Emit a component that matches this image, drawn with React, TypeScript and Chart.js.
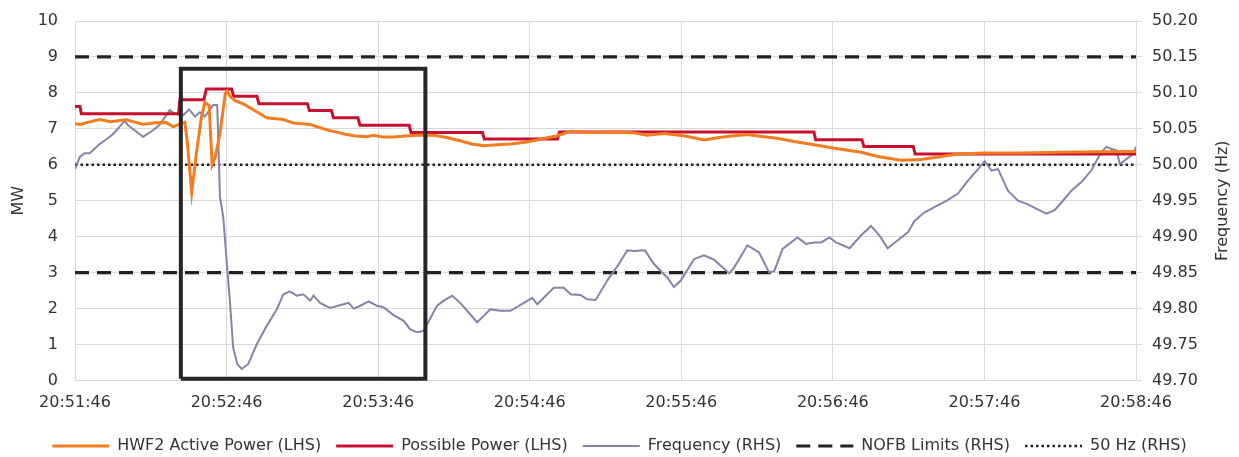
import React, { useEffect, useRef } from 'react';
import { Chart, registerables } from 'chart.js';

Chart.register(...registerables);

// Time axis: seconds elapsed since 20:51:46
const startClock = [20, 51, 46];
const timeTicksSeconds = [0, 60, 120, 180, 240, 300, 360, 420];

// HWF2 Active Power (MW, LHS)
const activeTimes = [0, 2, 5, 9.8, 14, 20.4, 24, 27, 32, 36, 38.8, 41, 43.5, 44.5, 46.2, 48, 50, 51.4, 53.1, 54.3, 55.5, 57.4, 59.5, 60.2, 61.5, 63.3, 67, 70.6, 75.9, 82.5, 86.4, 93.1, 99.7, 107.6, 111, 115.5, 118, 122, 126.1, 131, 135.4, 142, 147, 152.5, 157, 161.8, 167, 172.4, 178, 183, 187, 190.9, 196.2, 205, 213, 221, 226.6, 233, 241, 249, 255, 260.9, 266, 272.7, 278, 284.7, 292.6, 300.6, 311.2, 317.8, 327, 335, 342.9, 349.5, 360, 375, 390, 405, 420];
const activeMW = [7.14, 7.12, 7.18, 7.26, 7.2, 7.25, 7.18, 7.13, 7.17, 7.18, 7.06, 7.12, 7.18, 6.6, 5.23, 6.3, 7.3, 7.74, 7.65, 6.0, 6.2, 6.87, 7.99, 8.05, 7.9, 7.79, 7.68, 7.53, 7.31, 7.26, 7.16, 7.12, 6.97, 6.84, 6.8, 6.78, 6.82, 6.77, 6.77, 6.8, 6.82, 6.82, 6.76, 6.67, 6.58, 6.53, 6.56, 6.58, 6.63, 6.69, 6.75, 6.81, 6.93, 6.9, 6.91, 6.89, 6.82, 6.87, 6.81, 6.69, 6.76, 6.81, 6.84, 6.78, 6.74, 6.65, 6.56, 6.46, 6.35, 6.23, 6.13, 6.15, 6.23, 6.3, 6.33, 6.33, 6.35, 6.36, 6.37];

// Possible Power (MW, LHS) - stepped
const possibleTimes = [0, 2, 2.5, 41, 41.5, 51, 52, 62, 62.8, 72, 72.8, 92, 92.8, 101.5, 102.3, 112, 112.8, 132.3, 133, 161.3, 162, 191, 191.8, 292.5, 293.2, 311.5, 312.3, 331.8, 332.6, 420];
const possibleMW = [7.62, 7.62, 7.42, 7.42, 7.81, 7.81, 8.11, 8.11, 7.91, 7.91, 7.7, 7.7, 7.51, 7.51, 7.31, 7.31, 7.1, 7.1, 6.9, 6.9, 6.72, 6.72, 6.91, 6.91, 6.7, 6.7, 6.51, 6.51, 6.3, 6.3];

// Frequency (Hz, RHS)
const freqTimes = [0, 1.9, 3.8, 5.8, 9.8, 13.8, 15.7, 19.7, 21, 27, 30.9, 33.6, 37.5, 39.5, 42.8, 45.2, 47.5, 49.4, 51.4, 54.7, 56.3, 57.4, 58.7, 60, 61.3, 62.6, 64.2, 66, 68.6, 71.9, 75.9, 79.9, 82.5, 85.1, 87.8, 90.4, 93.1, 94.4, 97, 100.9, 106.3, 108.3, 110.3, 113, 116.2, 119.5, 122.1, 126.1, 130.1, 132.7, 135.4, 138, 143.3, 146, 149.3, 152.5, 159.2, 164.4, 168.4, 172.4, 177.7, 181, 183, 189.5, 193.5, 196.2, 200.1, 202.8, 206.1, 210.7, 215.3, 218.6, 221.3, 225.6, 229.2, 234.5, 237.1, 239.8, 245.1, 249, 253, 259, 260.9, 266.2, 270.8, 274.8, 276.8, 280.1, 286, 289.4, 292.6, 295.4, 298.6, 301.3, 306.6, 311.2, 315.1, 318.4, 321.7, 325.7, 329.7, 332.3, 336.3, 340.2, 345.5, 349.5, 353.5, 357.5, 360.1, 362.8, 365.4, 369.3, 373.3, 377.2, 379.9, 384.5, 387.8, 391.1, 394.4, 398.4, 402.3, 406.3, 408.3, 410.3, 412.3, 413.6, 416.2, 418.9, 420];
const freqHz = [49.994, 50.011, 50.016, 50.016, 50.029, 50.039, 50.045, 50.061, 50.055, 50.039, 50.048, 50.056, 50.076, 50.071, 50.069, 50.077, 50.067, 50.073, 50.067, 50.083, 50.083, 49.955, 49.927, 49.867, 49.811, 49.746, 49.723, 49.716, 49.723, 49.75, 49.776, 49.799, 49.82, 49.824, 49.818, 49.82, 49.811, 49.818, 49.808, 49.801, 49.806, 49.808, 49.8, 49.804, 49.81, 49.804, 49.802, 49.791, 49.783, 49.771, 49.767, 49.769, 49.804, 49.811, 49.818, 49.808, 49.781, 49.799, 49.797, 49.797, 49.808, 49.815, 49.806, 49.829, 49.829, 49.82, 49.819, 49.813, 49.812, 49.839, 49.862, 49.881, 49.88, 49.881, 49.862, 49.843, 49.83, 49.839, 49.869, 49.874, 49.868, 49.849, 49.857, 49.888, 49.878, 49.85, 49.852, 49.883, 49.899, 49.89, 49.892, 49.892, 49.899, 49.892, 49.884, 49.902, 49.915, 49.902, 49.884, 49.895, 49.906, 49.922, 49.934, 49.941, 49.951, 49.96, 49.978, 49.994, 50.005, 49.992, 49.994, 49.964, 49.95, 49.945, 49.94, 49.932, 49.937, 49.95, 49.964, 49.976, 49.992, 50.018, 50.025, 50.022, 50.02, 50.001, 50.008, 50.015, 50.025];

// Reference lines (Hz, RHS)
const nofbLimitsHz = [50.15, 49.85];
const nominalHz = 50;

// Highlight box (seconds, MW)
const boxTimes = [41.9, 41.9, 138.7, 138.7, 41.9];
const boxMW = [0.05, 8.67, 8.67, 0.05, 0.05];

const FONT = '"DejaVu Sans", sans-serif';
const TEXT = '#333333';
const GRID = '#d9d9d9';

const pts = (xs: number[], ys: number[]) => xs.map((x, i) => ({ x, y: ys[i] }));
const span = (v: number) => [{ x: 0, y: v }, { x: 420, y: v }];

const fmtTime = (s: number) => {
  const total = startClock[0] * 3600 + startClock[1] * 60 + startClock[2] + Math.round(s);
  const h = Math.floor(total / 3600);
  const m = Math.floor((total % 3600) / 60);
  const sec = total % 60;
  return `${h}:${String(m).padStart(2, '0')}:${String(sec).padStart(2, '0')}`;
};

const rightTitlePlugin = {
  id: 'rightTitle',
  afterDraw(chart: any) {
    const ctx = chart.ctx;
    const area = chart.chartArea;
    ctx.save();
    ctx.translate(1223, (area.top + area.bottom) / 2);
    ctx.rotate(-Math.PI / 2);
    ctx.font = `16px ${FONT}`;
    ctx.fillStyle = TEXT;
    ctx.textAlign = 'center';
    ctx.textBaseline = 'middle';
    ctx.fillText('Frequency (Hz)', 0, 0);
    ctx.restore();
  },
};

export default function App() {
  const ref = useRef<HTMLCanvasElement | null>(null);

  useEffect(() => {
    document.body.style.margin = '0';
    if (!ref.current) return;
    const datasets: any[] = [
      {
        label: 'HWF2 Active Power (LHS)',
        data: pts(activeTimes, activeMW),
        borderColor: '#F47C20',
        backgroundColor: '#F47C20',
        borderWidth: 3,
        yAxisID: 'y',
      },
      {
        label: 'Possible Power (LHS)',
        data: pts(possibleTimes, possibleMW),
        borderColor: '#C8102E',
        backgroundColor: '#C8102E',
        borderWidth: 3,
        yAxisID: 'y',
      },
      {
        label: 'Frequency (RHS)',
        data: pts(freqTimes, freqHz),
        borderColor: '#8385A4',
        backgroundColor: '#8385A4',
        borderWidth: 2,
        yAxisID: 'y1',
      },
      {
        label: 'NOFB Limits (RHS)',
        data: span(nofbLimitsHz[0]),
        borderColor: '#222222',
        backgroundColor: '#222222',
        borderWidth: 3.2,
        borderDash: [14, 8],
        yAxisID: 'y1',
      },
      {
        label: '50 Hz (RHS)',
        data: span(nominalHz),
        borderColor: '#222222',
        backgroundColor: '#222222',
        borderWidth: 2.5,
        borderDash: [2.5, 3],
        yAxisID: 'y1',
      },
      {
        label: 'NOFB Limits lower',
        hideInLegend: true,
        data: span(nofbLimitsHz[1]),
        borderColor: '#222222',
        borderWidth: 3.2,
        borderDash: [14, 8],
        yAxisID: 'y1',
      },
      {
        label: 'Highlight',
        hideInLegend: true,
        data: pts(boxTimes, boxMW),
        borderColor: '#262626',
        borderWidth: 4,
        borderJoinStyle: 'miter',
        yAxisID: 'y',
        order: -1,
        clip: false,
      },
    ];

    const chart = new Chart(ref.current, {
      type: 'line',
      data: { datasets },
      plugins: [rightTitlePlugin],
      options: {
        animation: false,
        responsive: true,
        maintainAspectRatio: false,
        events: [],
        layout: { padding: { top: 21, left: 0, right: 0, bottom: 0 } },
        elements: {
          point: { radius: 0 },
          line: { tension: 0, fill: false },
        },
        plugins: {
          tooltip: { enabled: false },
          legend: {
            position: 'bottom',
            labels: {
              font: { family: FONT, size: 16 },
              color: TEXT,
              usePointStyle: true,
              pointStyleWidth: 57,
              padding: 15,
              generateLabels: (c: any) =>
                c.data.datasets
                  .map((ds: any, i: number) => ({
                    text: ds.label,
                    strokeStyle: ds.borderColor,
                    fillStyle: ds.borderColor,
                    lineWidth: ds.borderWidth,
                    lineDash: ds.borderDash || [],
                    lineCap: 'butt',
                    pointStyle: 'line',
                    rotation: 0,
                    hidden: false,
                    fontColor: TEXT,
                    datasetIndex: i,
                    skip: !!ds.hideInLegend,
                  }))
                  .filter((it: any) => !it.skip),
            },
          },
        },
        scales: {
          x: {
            type: 'linear',
            min: 0,
            max: 420,
            afterFit: (s: any) => { s.height = 42.5; },
            afterBuildTicks: (s: any) => { s.ticks = timeTicksSeconds.map((v) => ({ value: v })); },
            ticks: {
              callback: (v: any) => fmtTime(Number(v)),
              font: { family: FONT, size: 16 },
              color: TEXT,
              padding: 13,
              maxRotation: 0,
              autoSkip: false,
            },
            grid: { color: GRID, drawTicks: false },
            border: { color: GRID },
          },
          y: {
            position: 'left',
            min: 0,
            max: 10,
            afterFit: (s: any) => { s.width = 75; },
            ticks: {
              stepSize: 1,
              font: { family: FONT, size: 16 },
              color: TEXT,
              padding: 3,
            },
            grid: { color: GRID, drawTicks: true, tickLength: 14, tickColor: 'rgba(0,0,0,0)' },
            border: { color: GRID },
            title: {
              display: true,
              text: 'MW',
              font: { family: FONT, size: 16 },
              color: TEXT,
              padding: { top: 9, bottom: 9 },
            },
          },
          y1: {
            position: 'right',
            min: 49.7,
            max: 50.2,
            afterFit: (s: any) => { s.width = 103; },
            afterBuildTicks: (s: any) => {
              const t: any[] = [];
              for (let i = 0; i <= 10; i++) t.push({ value: 49.7 + i * 0.05 });
              s.ticks = t;
            },
            ticks: {
              callback: (v: any) => Number(v).toFixed(2),
              font: { family: FONT, size: 16 },
              color: TEXT,
              padding: 10,
            },
            grid: { drawOnChartArea: false, color: GRID, tickLength: 6 },
            border: { display: false },
          },
        },
      } as any,
    });
    return () => chart.destroy();
  }, []);

  return (
    <div style={{ position: 'relative', width: 1239, height: 457, overflow: 'hidden' }}>
      <div style={{ position: 'relative', width: 1239, height: 464 }}>
        <canvas ref={ref} />
      </div>
    </div>
  );
}
